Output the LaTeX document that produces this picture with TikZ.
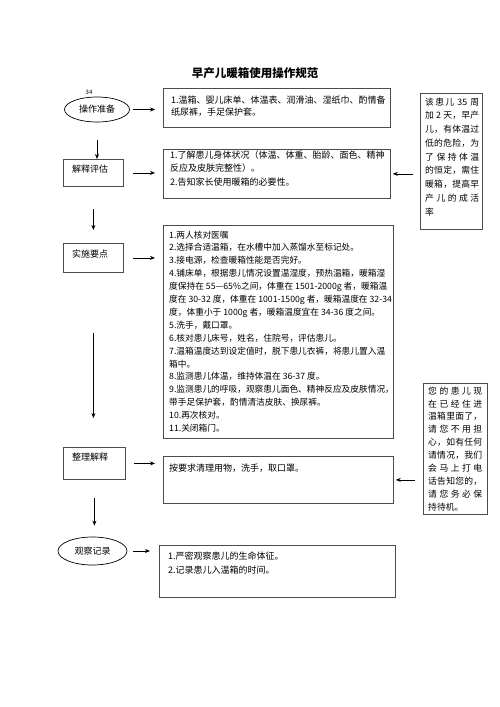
\documentclass[tikz,border=0pt]{standalone}
\usepackage{fontspec}
\setmainfont{Noto Sans CJK SC}
\usetikzlibrary{shapes.geometric,arrows.meta}
\def\jlend{\jlend}
\def\jl#1{\makebox[54pt][s]{\jlfirst#1\jlend}}
\def\jlfirst#1{#1\jlx}
\def\jlx#1{\def\jltmp{#1}\ifx\jltmp\jlend\else\hfil#1\expandafter\jlx\fi}

\begin{document}
\begin{tikzpicture}[x=1pt,y=-1pt,>={Stealth[length=5pt,width=4pt]},
  kuang/.style={draw=black!70, line width=0.8pt, rectangle, inner sep=0pt, anchor=north west},
  tuoyuan/.style={draw, ellipse, line width=0.7pt, inner sep=0pt, font=\fontsize{9}{11}\selectfont},
  lbl/.style={anchor=west, inner sep=0pt, font=\fontsize{9}{11}\selectfont},
  wenzi/.style={anchor=north west, inner sep=0pt, align=left, font=\fontsize{9}{13}\selectfont},
  jiantou/.style={->, line width=0.7pt}]

\useasboundingbox (0,0) rectangle (500,707);

\node[font=\fontsize{11.5}{14}\selectfont\bfseries, inner sep=0pt] (biaoti) at (255,73) {早产儿暖箱使用操作规范};

\node[tuoyuan, minimum width=65, minimum height=25] (zhunbei) at (97,109.5) {操作准备};
\node[font=\fontsize{6}{7}\selectfont, inner sep=0pt] (yema) at (89,92) {34};
\node[kuang, minimum width=60, minimum height=27] (pinggu) at (63,159) {};
\node[lbl] at ([shift={(9,10)}]pinggu.north west) {解释评估};
\node[kuang, minimum width=60, minimum height=29] (yaodian) at (63,243) {};
\node[lbl] at ([shift={(9,11)}]yaodian.north west) {实施要点};
\node[kuang, minimum width=62, minimum height=32] (zhengli) at (63,447) {};
\node[lbl] at ([shift={(9,10)}]zhengli.north west) {整理解释};
\node[tuoyuan, minimum width=69, minimum height=28] (jilu) at (92.5,551) {观察记录};

\node[kuang, minimum width=227, minimum height=39] (nr1) at (163,88) {};
\node[wenzi, font=\fontsize{9}{12.5}\selectfont] at ([shift={(8,7.5)}]nr1.north west)
  {1.温箱、婴儿床单、体温表、润滑油、湿纸巾、酌情备\\纸尿裤，手足保护套。};

\node[kuang, minimum width=227, minimum height=49] (nr2) at (163,149) {};
\node[wenzi, font=\fontsize{9}{13.5}\selectfont] at ([shift={(7,1.5)}]nr2.north west)
  {1.了解患儿身体状况（体温、体重、胎龄、面色、精神\\反应及皮肤完整性）。\\2.告知家长使用暖箱的必要性。};

\node[kuang, minimum width=230, minimum height=213] (nr3) at (163,225) {};
\node[wenzi, font=\fontsize{8.7}{12.9}\selectfont] at ([shift={(6,5.5)}]nr3.north west)
  {1.两人核对医嘱\\
   2.选择合适温箱，在水槽中加入蒸馏水至标记处。\\
   3.接电源，检查暖箱性能是否完好。\\
   4.铺床单，根据患儿情况设置温湿度，预热温箱，暖箱湿\\
   度保持在 55—65\%之间，体重在 1501-2000g 者，暖箱温\\
   度在 30-32 度，体重在 1001-1500g 者，暖箱温度在 32-34\\
   度，体重小于 1000g 者，暖箱温度宜在 34-36 度之间。\\
   5.洗手，戴口罩。\\
   6.核对患儿床号，姓名，住院号，评估患儿。\\
   7.温箱温度达到设定值时，脱下患儿衣裤，将患儿置入温\\
   箱中。\\
   8.监测患儿体温，维持体温在 36-37 度。\\
   9.监测患儿的呼吸，观察患儿面色、精神反应及皮肤情况，\\
   带手足保护套，酌情清洁皮肤、换尿裤。\\
   10.再次核对。\\
   11.关闭箱门。};

\node[kuang, minimum width=230, minimum height=47] (nr4) at (163,456) {};
\node[wenzi] at ([shift={(6,7.5)}]nr4.north west) {按要求清理用物，洗手，取口罩。};

\node[kuang, minimum width=236, minimum height=52] (nr5) at (159,545) {};
\node[wenzi, font=\fontsize{9}{14}\selectfont] at ([shift={(9,6.5)}]nr5.north west)
  {1.严密观察患儿的生命体征。\\2.记录患儿入温箱的时间。};

\node[kuang, minimum width=62, minimum height=136] (ce1) at (420,93) {};
\node[wenzi, font=\fontsize{8.8}{13.75}\selectfont] at ([shift={(5,4.5)}]ce1.north west)
  {\jl{该患儿{ 35 }周}\\\jl{加{ 2 }天，早产}\\\jl{儿，有体温过}\\\jl{低的危险，为}\\\jl{了保持体温}\\\jl{的恒定，需住}\\\jl{暖箱，提高早}\\\jl{产儿的成活}\\率};

\node[kuang, minimum width=64, minimum height=131] (ce2) at (423,383) {};
\node[wenzi, font=\fontsize{8.8}{12.9}\selectfont] at ([shift={(5,3.5)}]ce2.north west)
  {\jl{您的患儿现}\\\jl{在已经住进}\\\jl{温箱里面了，}\\\jl{请您不用担}\\\jl{心，如有任何}\\\jl{请情况，我们}\\\jl{会马上打电}\\\jl{话告知您的，}\\\jl{请您务必保}\\持待机。};

\draw[jiantou, shorten <=18] (zhunbei.south) -- (zhunbei.south |- pinggu.north);
\draw[jiantou, shorten <=22, shorten >=13] (pinggu.south) -- (pinggu.south |- yaodian.north);
\draw[jiantou, shorten <=60, shorten >=29] (yaodian.south) -- (yaodian.south |- zhengli.north);
\draw[jiantou, shorten <=18, shorten >=11] (zhengli.south) -- (zhengli.south |- jilu.north);

\draw[jiantou, shorten <=3, shorten >=8] (zhunbei.east) -- (zhunbei.east -| nr1.west);
\draw[jiantou, shorten <=9, shorten >=8] (pinggu.east) -- (pinggu.east -| nr2.west);
\draw[jiantou, shorten <=9, shorten >=8] (yaodian.east) -- (yaodian.east -| nr3.west);
\draw[jiantou, shorten <=8, shorten >=8] (zhengli.east) -- (zhengli.east -| nr4.west);
\draw[jiantou, shorten <=6, shorten >=9] (jilu.east) -- (jilu.east -| nr5.west);

\draw[jiantou, shorten <=7, shorten >=2] (ce1.west |- nr2.east) -- (nr2.east);
\draw[jiantou, shorten <=8, shorten >=2] (ce2.west |- nr4.east) -- (nr4.east);

\end{tikzpicture}
\end{document}
